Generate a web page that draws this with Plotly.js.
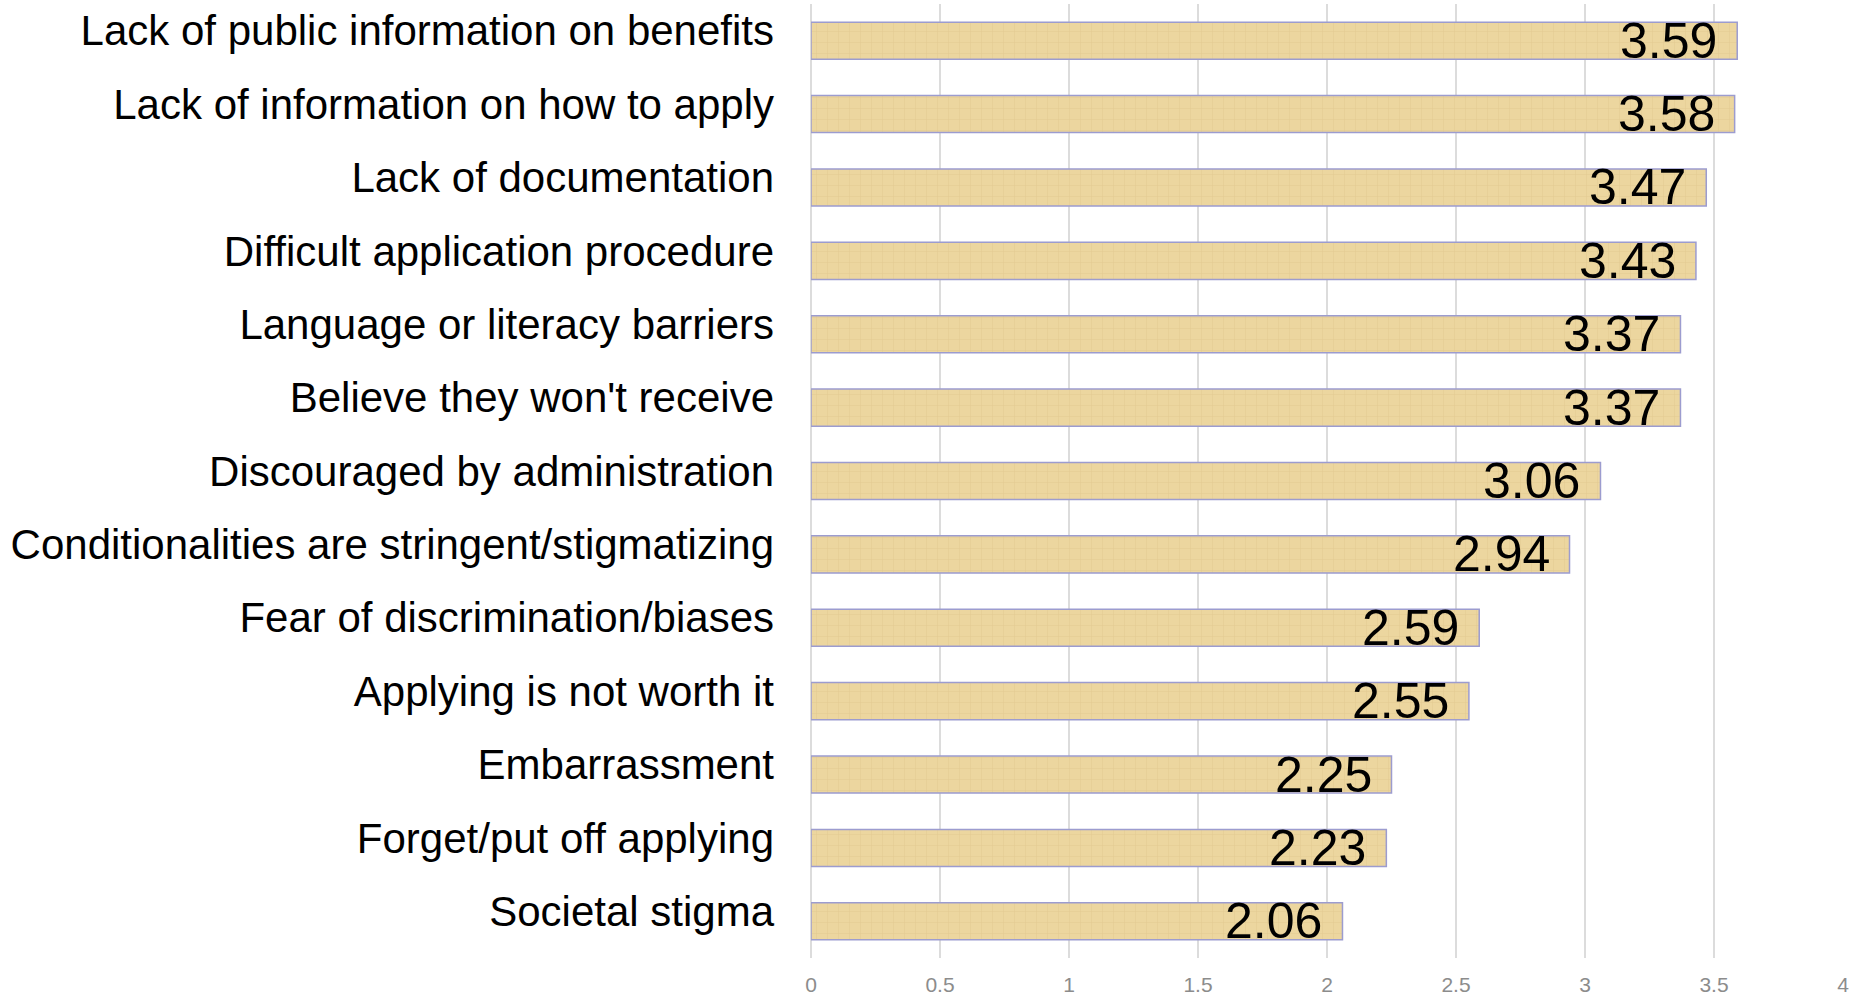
<!DOCTYPE html>
<html>
<head>
<meta charset="utf-8">
<script src="https://cdn.plot.ly/plotly-3.0.1.min.js"></script>
<style>html,body{margin:0;padding:0;background:#fff;}#chart{width:1860px;height:997px;}</style>
</head>
<body>
<div id="chart"></div>
<script>
const categories = [
  "Lack of public information on benefits",
  "Lack of information on how to apply",
  "Lack of documentation",
  "Difficult application procedure",
  "Language or literacy barriers",
  "Believe they won't receive",
  "Discouraged by administration",
  "Conditionalities are stringent/stigmatizing",
  "Fear of discrimination/biases",
  "Applying is not worth it",
  "Embarrassment",
  "Forget/put off applying",
  "Societal stigma"
];
const values = [3.59, 3.58, 3.47, 3.43, 3.37, 3.37, 3.06, 2.94, 2.59, 2.55, 2.25, 2.23, 2.06];
const labels = ["3.59", "3.58", "3.47", "3.43", "3.37", "3.37", "3.06", "2.94", "2.59", "2.55", "2.25", "2.23", "2.06"];
const xTicks = [0, 0.5, 1, 1.5, 2, 2.5, 3, 3.5, 4];

const FONT = "Liberation Sans, Arial, sans-serif";

const trace = {
  type: "bar",
  orientation: "h",
  x: values,
  y: categories,
  marker: {
    color: "#ecd69f",
    line: {color: "#9c9ccf", width: 1.5},
    pattern: {shape: "+", fillmode: "replace", bgcolor: "#ecd69f", fgcolor: "#cdb077", fgopacity: 0.28, size: 11, solidity: 0.12}
  },
  hoverinfo: "x+y"
};

const annotations = values.map((v, i) => ({
  x: v, y: categories[i], xref: "x", yref: "y",
  text: labels[i], showarrow: false,
  xanchor: "right", yanchor: "middle", xshift: -18, yshift: 0,
  font: {family: FONT, size: 50, color: "#000"}
}));

const layout = {
  width: 1860, height: 997,
  margin: {l: 811, r: 17, t: 4, b: 39},
  paper_bgcolor: "#fff", plot_bgcolor: "#fff",
  bargap: 0.495,
  showlegend: false,
  font: {family: FONT},
  xaxis: {
    range: [0, 4], tickvals: xTicks, ticktext: xTicks.map(String),
    showgrid: true, gridcolor: "#dcdcdc", gridwidth: 1.5,
    zeroline: true, zerolinecolor: "#dcdcdc", zerolinewidth: 1.5,
    showline: false, ticks: "",
    tickfont: {family: FONT, size: 21, color: "#8c8c8c"},
    ticklabelstandoff: 12
  },
  yaxis: {
    type: "category", range: [12.5, -0.5],
    showgrid: false, zeroline: false, showline: false, ticks: "",
    tickfont: {family: FONT, size: 42, color: "#000"},
    ticklabelstandoff: 36, ticklabelshift: 10
  },
  annotations: annotations
};

Plotly.newPlot("chart", [trace], layout, {displayModeBar: false, staticPlot: true});
</script>
</body>
</html>
